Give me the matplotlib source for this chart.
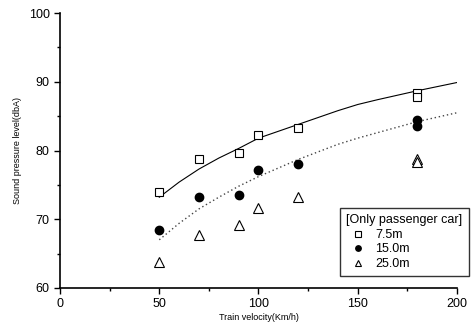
import matplotlib
matplotlib.use("Agg")
import matplotlib.pyplot as plt
from matplotlib.ticker import MultipleLocator

plt.rcParams['font.family'] = ['Liberation Sans', 'DejaVu Sans']

# measured points (train velocity km/h, level dBA)
vel_75 = [50, 70, 90, 100, 120, 180, 180]
spl_75 = [73.9, 78.8, 79.6, 82.3, 83.3, 88.4, 87.8]

vel_15 = [50, 70, 90, 100, 120, 180, 180]
spl_15 = [68.4, 73.2, 73.5, 77.1, 78.0, 84.5, 83.6]

vel_25 = [50, 70, 90, 100, 120, 180, 180]
spl_25 = [63.8, 67.7, 69.1, 71.6, 73.2, 78.7, 78.4]

# fitted curves
fit_vel = [50, 60, 70, 80, 90, 100, 120, 140, 150, 160, 180, 200]
fit_75 = [73.2, 75.4, 77.3, 78.9, 80.3, 81.8, 83.8, 85.8, 86.7, 87.4, 88.7, 89.9]
fit_15 = [67.0, 69.4, 71.5, 73.2, 74.8, 76.2, 78.7, 80.9, 81.8, 82.6, 84.2, 85.5]

fig = plt.figure(figsize=(4.73, 3.29), dpi=100)
ax = fig.add_axes([0.127, 0.125, 0.839, 0.835])

ax.plot(fit_vel, fit_75, color='black', lw=0.8)
ax.plot(fit_vel, fit_15, color='#444444', lw=1.0, linestyle=(0, (1, 2)))

ax.plot(vel_75, spl_75, 's', ms=6, mfc='white', mec='black', mew=0.8, label='7.5m')
ax.plot(vel_15, spl_15, 'o', ms=6, mfc='black', mec='black', label='15.0m')
ax.plot(vel_25, spl_25, '^', ms=6.5, mfc='white', mec='black', mew=0.8, label='25.0m')

ax.set_xlim(0, 200)
ax.set_ylim(60, 100)
ax.xaxis.set_major_locator(MultipleLocator(50))
ax.xaxis.set_minor_locator(MultipleLocator(25))
ax.yaxis.set_major_locator(MultipleLocator(10))
ax.yaxis.set_minor_locator(MultipleLocator(5))
ax.tick_params(which='major', length=4, width=1, labelsize=9, direction='out')
ax.tick_params(which='minor', length=2.5, width=1, direction='out')

ax.spines['top'].set_visible(False)
ax.spines['right'].set_visible(False)
ax.spines['left'].set_linewidth(1.2)
ax.spines['bottom'].set_linewidth(1.2)

ax.set_xlabel('Train velocity(Km/h)', fontsize=6.5, labelpad=2)
ax.set_ylabel('Sound pressure level(dbA)', fontsize=6.5, labelpad=5)

leg = ax.legend(title='[Only passenger car]', loc='lower left',
                bbox_to_anchor=(0.69, 0.02), fontsize=9, title_fontsize=9,
                frameon=True, fancybox=False, edgecolor='black',
                markerscale=0.65, handlelength=1.8, handletextpad=0.5,
                borderpad=0.5, labelspacing=0.2, alignment='left')
leg.get_frame().set_linewidth(1.0)

fig.savefig('out.png', dpi=100)
